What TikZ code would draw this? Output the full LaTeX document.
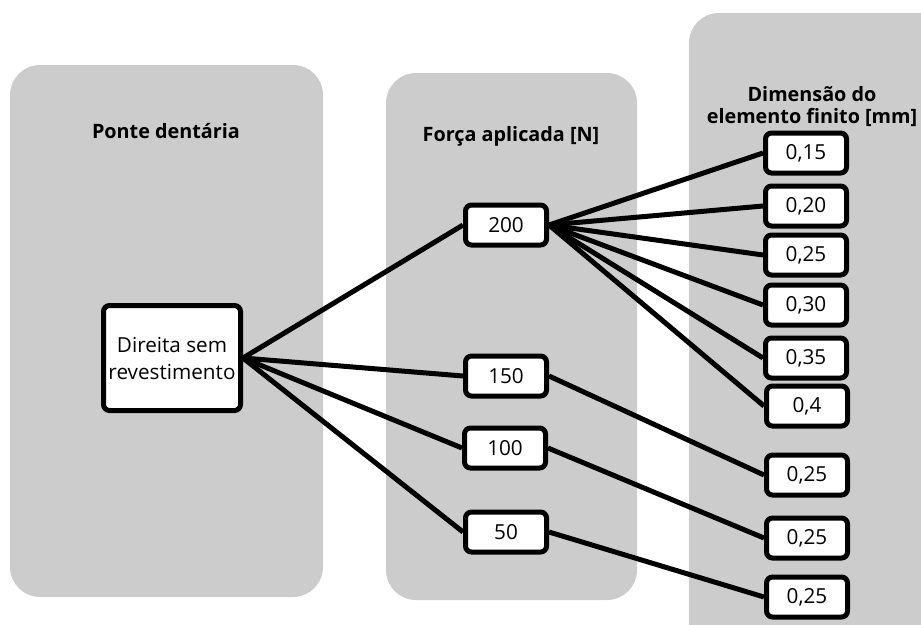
\documentclass[tikz,border=0pt]{standalone}
\usepackage{fontspec}
\setmainfont{Open Sans}
\pgfdeclarelayer{panels}
\pgfdeclarelayer{links}
\pgfsetlayers{panels,links,main}
\begin{document}
\begin{tikzpicture}[x=1pt,y=-1pt,
  panel/.style={fill=panelgray, rounded corners=30pt},
  valbox/.style={draw=black, line width=5pt, rounded corners=6pt, fill=white,
    minimum width=81pt, minimum height=40pt, inner sep=0pt,
    font=\fontsize{20.7}{27}\selectfont},
  bigbox/.style={valbox, minimum width=137pt, minimum height=105pt, align=center},
  title/.style={font=\fontsize{19.8}{22}\selectfont\bfseries, align=center, inner sep=0pt},
  link/.style={line width=5pt}]
\definecolor{panelgray}{HTML}{CCCCCC}
\useasboundingbox (0,0) rectangle (921,624);

\node[title] (t1) at (166,131) {Ponte dentária};
\node[title] (t2) at (511,136) {Força aplicada [N]};
\node[title, anchor=south] (t3) at (812,127) {Dimensão do\\elemento finito [mm]};

\node[bigbox] (d) at (172,358) {Direita sem\\revestimento};
\node[valbox] (f200) at (506,225) {200};
\node[valbox] (f150) at (506,376) {150};
\node[valbox] (f100) at (505,448) {100};
\node[valbox] (f50) at (506,532) {50};

\node[valbox] (e1) at (806,153) {0,15};
\node[valbox] (e2) at (806,206) {0,20};
\node[valbox] (e3) at (806,255) {0,25};
\node[valbox] (e4) at (806,305) {0,30};
\node[valbox] (e5) at (806,358) {0,35};
\node[valbox] (e6) at (807,406) {0,4};
\node[valbox] (e7) at (807,475) {0,25};
\node[valbox] (e8) at (807,538) {0,25};
\node[valbox] (e9) at (807,597) {0,25};

\begin{pgfonlayer}{panels}
\begin{scope}
\clip (0,0) rectangle (921,624);
\fill[panel] (10,65) rectangle (323,597);
\fill[panel] (386,73) rectangle (637,600);
\fill[panel] (689,13) rectangle (960,660);
\end{scope}
\end{pgfonlayer}

\begin{pgfonlayer}{links}
\foreach \t in {f200,f150,f100,f50}{\draw[link] (d.east) -- (\t.west);}
\foreach \t in {e1,e2,e3,e4,e5,e6}{\draw[link] (f200.east) -- (\t.west);}
\draw[link] (f150.east) -- (e7.west);
\draw[link] (f100.east) -- (e8.west);
\draw[link] (f50.east) -- (e9.west);
\end{pgfonlayer}
\end{tikzpicture}
\end{document}
